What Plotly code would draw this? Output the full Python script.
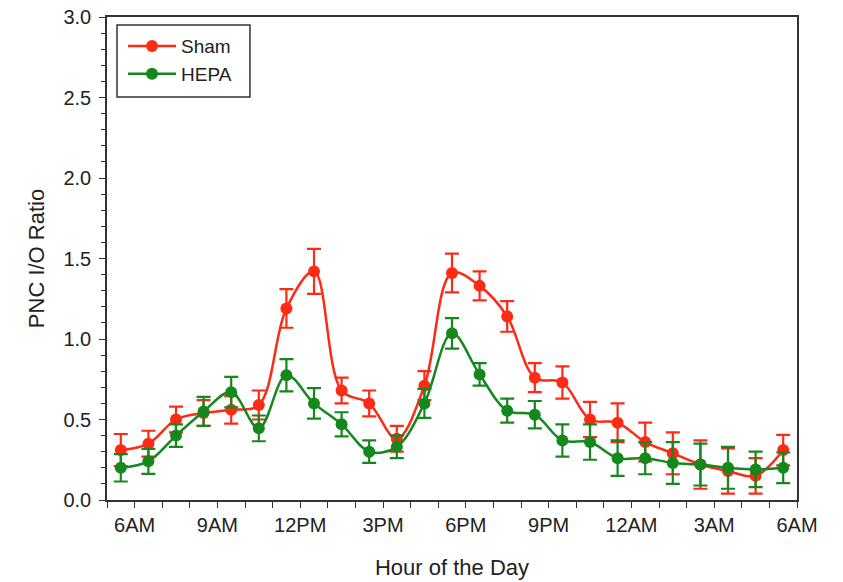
import plotly.graph_objects as go

# Hour-bin midpoints (hours since midnight of day 1; 24+ = next day)
hours = [5.5, 6.5, 7.5, 8.5, 9.5, 10.5, 11.5, 12.5, 13.5, 14.5, 15.5, 16.5,
         17.5, 18.5, 19.5, 20.5, 21.5, 22.5, 23.5, 24.5, 25.5, 26.5, 27.5, 28.5, 29.5]

sham = [0.31, 0.35, 0.50, 0.54, 0.56, 0.59, 1.19, 1.42, 0.68, 0.60, 0.38, 0.71,
        1.41, 1.33, 1.14, 0.76, 0.73, 0.50, 0.48, 0.36, 0.29, 0.22, 0.18, 0.15, 0.31]
sham_err = [0.10, 0.08, 0.08, 0.08, 0.085, 0.09, 0.12, 0.14, 0.08, 0.08, 0.08, 0.09,
            0.12, 0.09, 0.095, 0.09, 0.10, 0.11, 0.12, 0.12, 0.13, 0.15, 0.14, 0.11, 0.095]

hepa = [0.20, 0.24, 0.40, 0.55, 0.67, 0.445, 0.775, 0.60, 0.47, 0.30, 0.33, 0.60,
        1.035, 0.78, 0.555, 0.53, 0.37, 0.36, 0.26, 0.26, 0.23, 0.22, 0.20, 0.19, 0.20]
hepa_err = [0.085, 0.078, 0.07, 0.09, 0.095, 0.08, 0.10, 0.095, 0.075, 0.07, 0.07, 0.09,
            0.095, 0.07, 0.075, 0.085, 0.10, 0.11, 0.11, 0.10, 0.13, 0.13, 0.13, 0.11, 0.095]

tick_vals = [6, 9, 12, 15, 18, 21, 24, 27, 30]
tick_text = ["6AM", "9AM", "12PM", "3PM", "6PM", "9PM", "12AM", "3AM", "6AM"]

RED = "#fb2b16"
GREEN = "#14881c"
FONT = "Arial, 'Liberation Sans', sans-serif"
AX = "#333333"
TXT = "#222222"

fig = go.Figure()
for name, y, err, col in [("Sham", sham, sham_err, RED), ("HEPA", hepa, hepa_err, GREEN)]:
    fig.add_trace(go.Scatter(
        x=hours, y=y, name=name, mode="lines+markers",
        line=dict(color=col, width=2.5, shape="spline", smoothing=1),
        marker=dict(color=col, size=12, symbol="circle"),
        error_y=dict(type="data", array=err, visible=True, color=col,
                     thickness=2.2, width=7),
    ))

# legend frame drawn as a box in axis-domain coordinates
fig.add_shape(type="rect", xref="x domain", yref="y domain",
              x0=0.0145, x1=0.2072, y0=0.8344, y1=0.9834,
              line=dict(color=AX, width=1.5), fillcolor="rgba(0,0,0,0)", layer="above")

fig.update_layout(
    width=843, height=582,
    margin=dict(l=107, r=46, t=17, b=82),
    paper_bgcolor="white", plot_bgcolor="white",
    font=dict(family=FONT, size=20, color=TXT),
    showlegend=True,
    legend=dict(
        x=0.0232, y=0.979, xanchor="left", yanchor="top",
        bgcolor="rgba(0,0,0,0)", borderwidth=0,
        font=dict(family=FONT, size=19, color=TXT),
        itemwidth=48,
    ),
    xaxis=dict(
        range=[5, 30], tickmode="array", tickvals=tick_vals, ticktext=tick_text,
        automargin=False,
        showgrid=False, zeroline=False, showline=True, linecolor=AX, linewidth=1.5,
        mirror=True, ticks="outside", ticklen=6, tickwidth=1.2, tickcolor=AX,
        minor=dict(dtick=1, tick0=5, ticks="outside", ticklen=6, tickwidth=1.2,
                   tickcolor=AX, showgrid=False),
        title=dict(text="Hour of the Day", font=dict(family=FONT, size=22, color=TXT),
                   standoff=25),
        tickfont=dict(size=20),
    ),
    yaxis=dict(
        range=[0, 3], tickmode="linear", tick0=0, dtick=0.5, tickformat=".1f",
        automargin=False,
        showgrid=False, zeroline=False, showline=True, linecolor=AX, linewidth=1.5,
        mirror=True, ticks="outside", ticklen=6, tickwidth=1.2, tickcolor=AX,
        minor=dict(dtick=0.1, ticks="outside", ticklen=4, tickwidth=1.2,
                   tickcolor=AX, showgrid=False),
        ticklabelstandoff=4,
        title=dict(text="PNC I/O Ratio", font=dict(family=FONT, size=22, color=TXT),
                   standoff=13),
        tickfont=dict(size=20),
    ),
)

fig.write_html("out.html",
               config={"displayModeBar": False},
               post_script="document.body.style.margin='0';document.body.style.overflow='hidden';")
